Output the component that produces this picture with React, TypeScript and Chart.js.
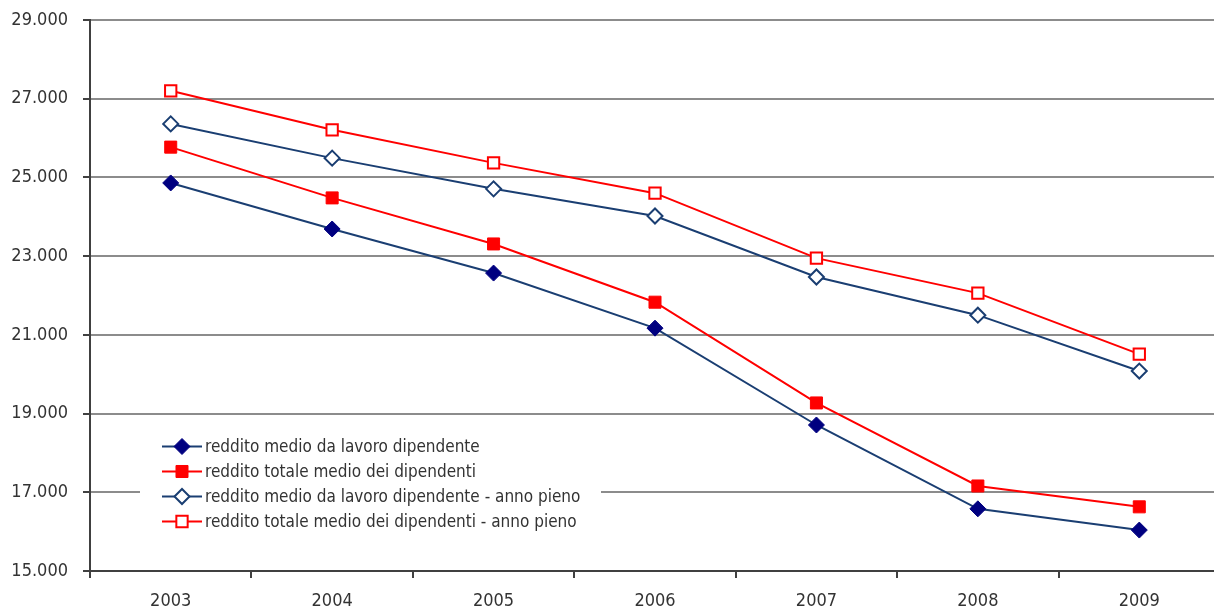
import React, { useEffect, useRef } from "react";
import { Chart, registerables } from "chart.js";

Chart.register(...registerables);

const years = ["2003", "2004", "2005", "2006", "2007", "2008", "2009"];
const redditoMedioLavoro = [24860, 23690, 22570, 21170, 18710, 16580, 16040];
const redditoTotaleMedio = [25770, 24480, 23310, 21830, 19270, 17160, 16630];
const redditoMedioLavoroAnnoPieno = [26360, 25490, 24710, 24020, 22470, 21500, 20080];
const redditoTotaleMedioAnnoPieno = [27200, 26210, 25370, 24600, 22950, 22060, 20510];
const seriesLabels = [
  "reddito medio da lavoro dipendente",
  "reddito totale medio dei dipendenti",
  "reddito medio da lavoro dipendente - anno pieno",
  "reddito totale medio dei dipendenti - anno pieno",
];
const yMin = 15000;
const yMax = 29000;
const yStep = 2000;

const NAVY_LINE = "#1A3E72";
const NAVY_FILL = "#000080";
const RED = "#FF0000";
const FONT = "'DejaVu Sans Condensed', 'DejaVu Sans', sans-serif";

function drawMarker(ctx: CanvasRenderingContext2D, style: string, x: number, y: number, r: number, fill: string, stroke: string, lw: number) {
  ctx.save();
  ctx.beginPath();
  if (style === "rectRot") {
    ctx.moveTo(x - r, y);
    ctx.lineTo(x, y - r);
    ctx.lineTo(x + r, y);
    ctx.lineTo(x, y + r);
    ctx.closePath();
  } else {
    const s = Math.SQRT1_2 * r;
    ctx.rect(x - s, y - s, 2 * s, 2 * s);
  }
  ctx.fillStyle = fill;
  ctx.fill();
  ctx.lineWidth = lw;
  ctx.strokeStyle = stroke;
  ctx.stroke();
  ctx.restore();
}

const legendPlugin = {
  id: "insideLegend",
  afterDraw(chart: any) {
    const ctx = chart.ctx as CanvasRenderingContext2D;
    ctx.save();
    ctx.fillStyle = "#FFFFFF";
    ctx.fillRect(140, 432, 461, 102);
    const rowY = [446.5, 471.5, 496.5, 521.5];
    chart.data.datasets.forEach((ds: any, i: number) => {
      const y = rowY[i];
      ctx.beginPath();
      ctx.moveTo(162, y);
      ctx.lineTo(202, y);
      ctx.lineWidth = 2;
      ctx.strokeStyle = ds.borderColor;
      ctx.stroke();
      drawMarker(ctx, ds.pointStyle, 182, y, ds.pointRadius, ds.pointBackgroundColor, ds.pointBorderColor, ds.pointBorderWidth);
      ctx.fillStyle = "#333333";
      ctx.font = "17px " + FONT;
      ctx.textBaseline = "middle";
      ctx.textAlign = "left";
      ctx.fillText(ds.label, 205, y + 1);
    });
    ctx.restore();
  },
};

export default function App() {
  const ref = useRef<HTMLCanvasElement | null>(null);
  useEffect(() => {
    if (!ref.current) return;
    const chart = new Chart(ref.current, {
      type: "line",
      data: {
        labels: years,
        datasets: [
          {
            label: seriesLabels[0],
            data: redditoMedioLavoro,
            borderColor: NAVY_LINE,
            borderWidth: 2,
            pointStyle: "rectRot",
            pointRadius: 8,
            pointBackgroundColor: NAVY_FILL,
            pointBorderColor: NAVY_FILL,
            pointBorderWidth: 1,
            tension: 0,
          },
          {
            label: seriesLabels[1],
            data: redditoTotaleMedio,
            borderColor: RED,
            borderWidth: 2,
            pointStyle: "rect",
            pointRadius: 8.5,
            pointBackgroundColor: RED,
            pointBorderColor: RED,
            pointBorderWidth: 1,
            tension: 0,
          },
          {
            label: seriesLabels[2],
            data: redditoMedioLavoroAnnoPieno,
            borderColor: NAVY_LINE,
            borderWidth: 2,
            pointStyle: "rectRot",
            pointRadius: 7.5,
            pointBackgroundColor: "#FFFFFF",
            pointBorderColor: NAVY_LINE,
            pointBorderWidth: 2,
            tension: 0,
          },
          {
            label: seriesLabels[3],
            data: redditoTotaleMedioAnnoPieno,
            borderColor: RED,
            borderWidth: 2,
            pointStyle: "rect",
            pointRadius: 8,
            pointBackgroundColor: "#FFFFFF",
            pointBorderColor: RED,
            pointBorderWidth: 2,
            tension: 0,
          },
        ] as any,
      },
      options: {
        animation: false,
        responsive: false,
        layout: { padding: { top: 20, right: 6, bottom: 0, left: 0 } },
        plugins: { legend: { display: false }, tooltip: { enabled: false } },
        scales: {
          x: {
            offset: true,
            grid: {
              offset: true,
              drawOnChartArea: false,
              drawTicks: true,
              tickLength: 7,
              color: "#404040",
              tickColor: "#404040",
              lineWidth: 2,
            },
            border: { color: "#404040", width: 2 },
            ticks: {
              color: "#333333",
              font: { family: FONT, size: 18 },
              padding: 13,
              maxRotation: 0,
            },
            afterFit: (s: any) => {
              s.height = 39;
              s.paddingLeft = 0;
              s.paddingRight = 0;
            },
          },
          y: {
            min: yMin,
            max: yMax,
            ticks: {
              stepSize: yStep,
              color: "#333333",
              font: { family: FONT, size: 18 },
              padding: 15,
              callback: (v: any) => Number(v).toLocaleString("it-IT").replace(/\s/g, "."),
            },
            grid: {
              color: "#8C8C8C",
              lineWidth: 2,
              tickColor: "#404040",
              tickLength: 7,
            },
            border: { color: "#404040", width: 2 },
            afterFit: (s: any) => {
              s.width = 90;
              s.paddingTop = 0;
              s.paddingBottom = 0;
            },
          },
        },
      },
      plugins: [legendPlugin],
    });
    return () => chart.destroy();
  }, []);
  return (
    <div style={{ position: "fixed", left: 0, top: 0, width: 1214, height: 610, overflow: "hidden", background: "#fff" }}>
      <canvas ref={ref} width={1230} height={610} style={{ display: "block" }} />
    </div>
  );
}
